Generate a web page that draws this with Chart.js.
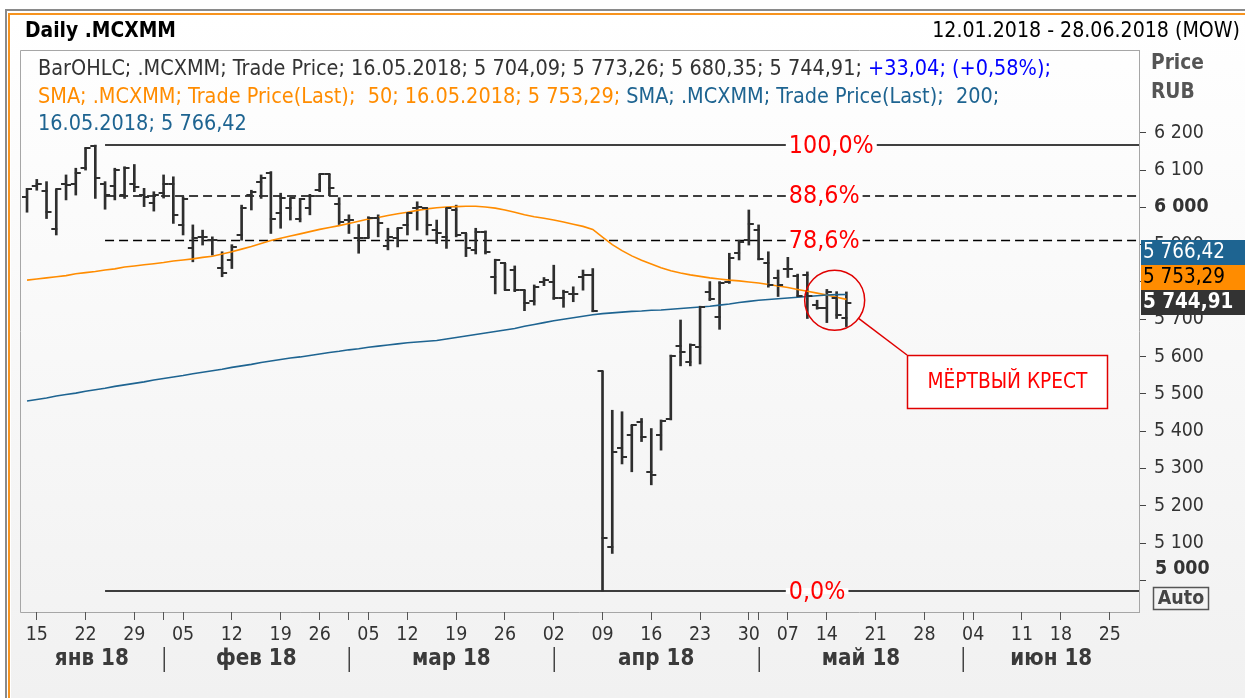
<!DOCTYPE html>
<html><head><meta charset="utf-8">
<script src="https://cdn.jsdelivr.net/npm/chart.js@4.4.1/dist/chart.umd.min.js"></script>
<style>html,body{margin:0;padding:0;background:#fff;overflow:hidden}#c{display:block}</style>
</head><body>
<canvas id="c" width="1245" height="698"></canvas>
<script>
const FAMILY = '"DejaVu Sans Condensed", "DejaVu Sans", sans-serif';

// ---- OHLC (trading-day index 0 = 12.01.2018 ... 84 = 16.05.2018) ----
const openP  = [6028,6058,6044,5942,6062,6062,6105,6165,6064,6058,6033,6062,6033,6011,6038,6064,5953,5890,5921,5912,5838,5860,5926,6033,6069,6091,5984,5998,5970,5998,6046,6089,6008,5966,5918,5918,5972,5897,5918,5953,5998,5998,5939,5921,5993,5930,5887,5934,5812,5850,5832,5778,5750,5800,5800,5756,5769,5812,5819,5560,5090,5354,5389,5425,5291,5389,5432,5628,5586,5626,5774,5707,5801,5877,5912,5939,5852,5810,5836,5816,5819,5738,5730,5756,5704.09];
const highP  = [6051,6075,6069,6048,6087,6105,6160,6167,6069,6105,6109,6115,6051,6042,6087,6082,6028,5953,5939,5921,5881,5900,6006,6046,6087,6096,6038,6024,6024,6035,6089,6089,6026,5980,5954,5975,5980,5944,5944,5984,6015,5998,5966,5998,6006,5930,5944,5937,5861,5850,5843,5778,5792,5812,5845,5778,5787,5832,5836,5560,5456,5452,5416,5434,5407,5430,5604,5698,5634,5735,5801,5801,5877,5912,5993,5953,5881,5832,5866,5821,5827,5751,5780,5774,5773.26];
const lowP   = [5987,6046,5970,5926,6020,6033,6100,6024,5995,6020,6024,6042,6002,5990,6025,5957,5926,5854,5899,5872,5814,5836,5912,5993,6024,5930,5944,5966,5961,5980,6042,6031,5954,5930,5877,5918,5921,5886,5894,5926,5939,5926,5903,5890,5921,5868,5875,5875,5768,5778,5774,5723,5738,5790,5753,5732,5747,5778,5720,4971,5072,5312,5291,5372,5256,5349,5430,5575,5575,5580,5750,5673,5796,5859,5899,5859,5786,5761,5812,5761,5702,5727,5691,5702,5680.35];
const closeP = [6049,6062,5988,6048,6060,6092,6160,6079,6033,6100,6105,6055,6028,6033,6064,5980,6022,5917,5921,5912,5823,5895,5998,6042,6078,5970,6024,6024,6022,6031,6089,6053,5960,5966,5918,5972,5957,5921,5944,5984,6002,5953,5930,5998,5926,5890,5934,5879,5859,5778,5778,5743,5787,5805,5756,5774,5769,5819,5723,5114,5345,5331,5416,5383,5282,5428,5601,5613,5631,5732,5753,5798,5863,5908,5955,5861,5792,5792,5836,5763,5762,5730,5774,5711.87,5744.91];

// ---- moving averages ----
const sma50  = [5805,5808,5811,5814,5817,5822,5825,5828,5832,5835,5840,5843,5846,5849,5852,5856,5859,5862,5866,5869,5875,5881,5888,5895,5903,5911,5917,5923,5929,5935,5941,5946,5951,5957,5963,5969,5973,5978,5983,5987,5992,5996,5999,6001,6002,6003,6003,6001,5998,5993,5987,5980,5975,5971,5966,5961,5955,5949,5941,5920,5900,5884,5870,5858,5848,5838,5830,5824,5819,5815,5811,5808,5805,5803,5800,5797,5793,5789,5785,5780,5775,5770,5765,5759,5753.29];
const sma200 = [5481,5485,5489,5494,5498,5502,5507,5511,5515,5520,5524,5528,5532,5537,5541,5545,5549,5554,5558,5562,5566,5571,5575,5579,5584,5588,5592,5596,5599,5603,5607,5611,5614,5618,5621,5625,5628,5631,5634,5637,5639,5641,5643,5647,5651,5655,5659,5663,5667,5671,5675,5681,5686,5691,5696,5700,5704,5708,5712,5715,5717,5719,5721,5722,5724,5725,5727,5729,5731,5733,5735,5738,5741,5745,5748,5751,5753,5755,5757,5759,5761,5763,5765,5766,5766.42];

// ---- axis ticks ----
const dayTickIdx = [1,6,11,16,21,26,30,35,39,44,49,54,59,64,69,74,78,82,87,92,97,102,106,111];
const dayTickLbl = ['15','22','29','05','12','19','26','05','12','19','26','02','09','16','23','30','07','14','21','28','04','11','18','25'];
const monthStartIdx = [14,33,54,75,96];
const monthLbl = ['янв 18','фев 18','мар 18','апр 18','май 18','июн 18'];
const yTicks = [5000,5100,5200,5300,5400,5500,5600,5700,5800,5900,6000,6100,6200];
const boldY = [5000,6000];

// ---- Fibonacci levels ----
const fibPct = [100,88.6,78.6,0];
const fibLbl = ['100,0%','88,6%','78,6%','0,0%'];
const fibDashed = [false,true,true,false];
const fibStartIdx = 8, lastIdx = 114;

const lastDate = '16.05.2018';
const rangeText = '12.01.2018 - 28.06.2018 (MOW)';

// ------------------------------------------------------------
const hi = Math.max(...highP), lo = Math.min(...lowP);
const fibVals = fibPct.map(p => lo + (hi - lo) * p / 100);

function fmtNum(v, dec) {
  let [ip, fp] = Math.abs(v).toFixed(dec).split('.');
  ip = ip.replace(/\B(?=(\d{3})+(?!\d))/g, ' ');
  return (v < 0 ? '-' : '') + ip + (fp ? ',' + fp : '');
}
const mc = document.createElement('canvas').getContext('2d');
function fit(text, target, weight) {
  mc.font = `${weight} 100px ${FAMILY}`;
  return 100 * target / mc.measureText(text).width;
}
const n = closeP.length - 1;
const chg = closeP[n] - closeP[n - 1];
const pct = chg / closeP[n - 1] * 100;
const leg1a = `BarOHLC; .MCXMM; Trade Price; ${lastDate}; ${fmtNum(openP[n],2)}; ${fmtNum(highP[n],2)}; ${fmtNum(lowP[n],2)}; ${fmtNum(closeP[n],2)}; `;
const leg1b = `+${fmtNum(chg,2)}; (+${fmtNum(pct,2)}%);`;
const leg2a = `SMA; .MCXMM; Trade Price(Last);  50; ${lastDate}; ${fmtNum(sma50[n],2)}; `;
const leg2b = `SMA; .MCXMM; Trade Price(Last);  200;`;
const leg3 = `${lastDate}; ${fmtNum(sma200[n],2)}`;

const tickSize = fit('6 200', 50, 'normal');
const legSize = fit(leg1a + leg1b, 1014, 'normal');
const titleSize = fit('Daily .MCXMM', 151, 'bold');
const rangeSize = fit(rangeText, 308, 'normal');
const monthSize = fit('янв 18', 74, 'bold');
const fibSize = fit('100,0%', 85, 'normal');
const crossSize = fit('МЁРТВЫЙ КРЕСТ', 160, 'normal');
const priceSize = fit('Price', 53, 'bold');
const tagSize = fit('5 766,42', 82, 'normal');

const ORANGE = '#ff8c00', TEAL = '#1e6491', BAR = '#2e2e2e';
const xTickVals = [...new Set([...dayTickIdx, ...monthStartIdx])].sort((a,b)=>a-b);

const bgPlugin = {
  id: 'bg',
  beforeDraw(chart) {
    const c = chart.ctx, W = chart.width, H = chart.height, a = chart.chartArea;
    c.save();
    c.fillStyle = '#fff'; c.fillRect(0, 0, W, H);
    const g = c.createLinearGradient(0, 15, 0, H);
    g.addColorStop(0, '#ffffff'); g.addColorStop(1, '#f1f1f1');
    c.fillStyle = g; c.fillRect(11, 15, W - 11, H - 15);
    c.fillStyle = '#8a8a8a'; c.fillRect(5, 9, W - 5, 2); c.fillRect(5, 9, 2, H - 9);
    c.fillStyle = '#f7931e'; c.fillRect(8, 13, W - 8, 2); c.fillRect(8, 13, 2, H - 13);
    c.strokeStyle = '#a6a6a6'; c.lineWidth = 1;
    c.beginPath();
    c.moveTo(a.right, a.top + 0.5); c.lineTo(a.left + 0.5, a.top + 0.5);
    c.lineTo(a.left + 0.5, a.bottom + 0.5); c.lineTo(a.right, a.bottom + 0.5);
    c.stroke();
    c.restore();
  }
};

const overlayPlugin = {
  id: 'overlay',
  afterDatasetsDraw(chart) {
    const c = chart.ctx, xs = chart.scales.x, ys = chart.scales.y;
    c.save();
    // open / close ticks
    c.strokeStyle = BAR; c.lineWidth = 2;
    for (let i = 0; i < closeP.length; i++) {
      const px = xs.getPixelForValue(i);
      const yo = Math.round(ys.getPixelForValue(openP[i]));
      const yc = Math.round(ys.getPixelForValue(closeP[i]));
      c.beginPath(); c.moveTo(px - 5, yo); c.lineTo(px + 1, yo);
      c.moveTo(px - 1, yc); c.lineTo(px + 5, yc); c.stroke();
    }
    // fib labels
    c.font = `${fibSize}px ${FAMILY}`; c.textBaseline = 'middle'; c.textAlign = 'left';
    const lx = xs.getPixelForValue(78.1);
    fibVals.forEach((v, k) => {
      const py = ys.getPixelForValue(v);
      const w = c.measureText(fibLbl[k]).width;
      c.fillStyle = '#ffffff'; c.fillRect(lx - 3, py - 3, w + 6, 6);
      c.fillStyle = '#ff0000'; c.fillText(fibLbl[k], lx, py + 1);
    });
    // dead-cross marker
    const cx = xs.getPixelForValue(82.8), cy = ys.getPixelForValue(5751), r = 30;
    c.strokeStyle = '#e00000'; c.lineWidth = 1.5;
    c.beginPath(); c.arc(cx, cy, r, 0, Math.PI * 2); c.stroke();
    const ang = Math.atan2(355 - cy, 907 - cx);
    c.beginPath(); c.moveTo(cx + r * Math.cos(ang), cy + r * Math.sin(ang)); c.lineTo(907, 355); c.stroke();
    c.fillStyle = '#ffffff'; c.fillRect(907.5, 355.5, 200, 53);
    c.strokeRect(907.5, 355.5, 200, 53);
    c.fillStyle = '#ff0000'; c.font = `${crossSize}px ${FAMILY}`; c.textAlign = 'center';
    c.fillText('МЁРТВЫЙ КРЕСТ', 1007.5, 383);
    c.restore();
  },
  afterDraw(chart) {
    const c = chart.ctx, xs = chart.scales.x, ys = chart.scales.y, a = chart.chartArea;
    c.save();
    c.textBaseline = 'middle';
    // title + range
    c.fillStyle = '#000'; c.textAlign = 'left';
    c.font = `bold ${titleSize}px ${FAMILY}`; c.fillText('Daily .MCXMM', 25, 32);
    c.textAlign = 'right'; c.font = `${rangeSize}px ${FAMILY}`; c.fillText(rangeText, 1240, 32);
    // legend
    c.textAlign = 'left'; c.font = `${legSize}px ${FAMILY}`;
    const seg = (parts, x, y) => { parts.forEach(([t, col]) => { c.fillStyle = col; c.fillText(t, x, y); x += c.measureText(t).width; }); };
    seg([[leg1a, '#333333'], [leg1b, '#0000ff']], 38, 69);
    seg([[leg2a, ORANGE], [leg2b, TEAL]], 38, 97);
    seg([[leg3, TEAL]], 38, 124);
    // axis title
    c.fillStyle = '#555'; c.font = `bold ${priceSize}px ${FAMILY}`;
    c.fillText('Price', 1151, 64); c.fillText('RUB', 1151, 93);
    // 5 000 label (lifted above its tick)
    c.fillStyle = '#333'; c.font = `bold ${tickSize}px ${FAMILY}`;
    c.fillText(fmtNum(5000, 0), 1155, ys.getPixelForValue(5000) - 11);
    // Auto box
    c.strokeStyle = '#555'; c.lineWidth = 1.5; c.strokeRect(1153.5, 587.5, 55, 22);
    c.fillStyle = '#444'; c.textAlign = 'center'; c.fillText('Auto', 1181, 599);
    // month separators + labels
    c.strokeStyle = '#444'; c.lineWidth = 1.5;
    const bounds = [a.left, ...monthStartIdx.map(i => xs.getPixelForValue(i)), a.right];
    monthStartIdx.forEach(i => {
      const px = Math.round(xs.getPixelForValue(i)) + 0.25;
      c.beginPath(); c.moveTo(px, 647); c.lineTo(px, 672); c.stroke();
    });
    c.fillStyle = '#3a3a3a'; c.font = `bold ${monthSize}px ${FAMILY}`; c.textAlign = 'center';
    monthLbl.forEach((t, k) => c.fillText(t, (bounds[k] + bounds[k + 1]) / 2, 659));
    // last value tags
    const y0 = Math.round(ys.getPixelForValue(closeP[n]));
    const tags = [
      [fmtNum(sma200[n], 2), TEAL, '#ffffff', 'normal', y0 - 63],
      [fmtNum(sma50[n], 2), ORANGE, '#000000', 'normal', y0 - 38],
      [fmtNum(closeP[n], 2), '#333333', '#ffffff', 'bold', y0 - 13]
    ];
    c.textAlign = 'left';
    tags.forEach(([t, bg, fg, wt, ty]) => {
      c.fillStyle = bg; c.fillRect(a.right + 2, ty, 1245 - a.right - 2, 25);
      c.fillStyle = fg; c.font = `${wt} ${tagSize}px ${FAMILY}`; c.fillText(t, a.right + 4, ty + 13);
    });
    c.restore();
  }
};

const datasets = [
  { type: 'line', label: 'SMA 200', data: sma200.map((v, i) => ({ x: i, y: v })), borderColor: TEAL, borderWidth: 1.6, pointRadius: 0, tension: 0, order: 1 },
  { type: 'line', label: 'SMA 50', data: sma50.map((v, i) => ({ x: i, y: v })), borderColor: ORANGE, borderWidth: 1.6, pointRadius: 0, tension: 0, order: 1 },
  { type: 'bar', label: 'High-Low', data: lowP.map((v, i) => ({ x: i, y: [v, highP[i]] })), backgroundColor: BAR, borderWidth: 0, barThickness: 2, order: 2 },
  ...fibVals.map((v, k) => ({ type: 'line', label: fibLbl[k], data: [{ x: fibStartIdx, y: v }, { x: lastIdx, y: v }], borderColor: '#000', borderWidth: 1.5, borderDash: fibDashed[k] ? [9, 5] : [], pointRadius: 0, order: 3 }))
];

new Chart(document.getElementById('c'), {
  type: 'line',
  data: { datasets },
  options: {
    responsive: false, animation: false, devicePixelRatio: 1,
    layout: { padding: { left: 20, top: 50, right: 0, bottom: 0 } },
    plugins: { legend: { display: false }, tooltip: { enabled: false } },
    scales: {
      x: {
        type: 'linear', min: -0.72, max: lastIdx, offset: false,
        afterBuildTicks: s => { s.ticks = xTickVals.map(v => ({ value: v })); },
        afterFit: s => { s.height = 86; },
        ticks: { autoSkip: false, maxRotation: 0, minRotation: 0, padding: 3, color: '#333',
          font: { family: FAMILY, size: tickSize },
          callback: v => { const k = dayTickIdx.indexOf(v); return k >= 0 ? dayTickLbl[k] : ''; } },
        grid: { drawOnChartArea: false, tickLength: 8, color: '#555', lineWidth: 1, offset: false },
        border: { display: false }
      },
      y: {
        type: 'linear', position: 'right', min: 4915, max: 6422, beginAtZero: false,
        afterBuildTicks: s => { s.ticks = yTicks.map(v => ({ value: v })); },
        afterFit: s => { s.width = 106; },
        ticks: { padding: 8, color: '#333',
          font: ctx => ({ family: FAMILY, size: tickSize, weight: (ctx.tick && boldY.includes(ctx.tick.value)) ? 'bold' : 'normal' }),
          callback: v => v === 5000 ? '' : fmtNum(v, 0) },
        grid: { drawOnChartArea: false, tickLength: 7, color: '#444', lineWidth: 1 },
        border: { display: true, color: '#a6a6a6', width: 1 }
      }
    }
  },
  plugins: [bgPlugin, overlayPlugin]
});
</script>
</body></html>
